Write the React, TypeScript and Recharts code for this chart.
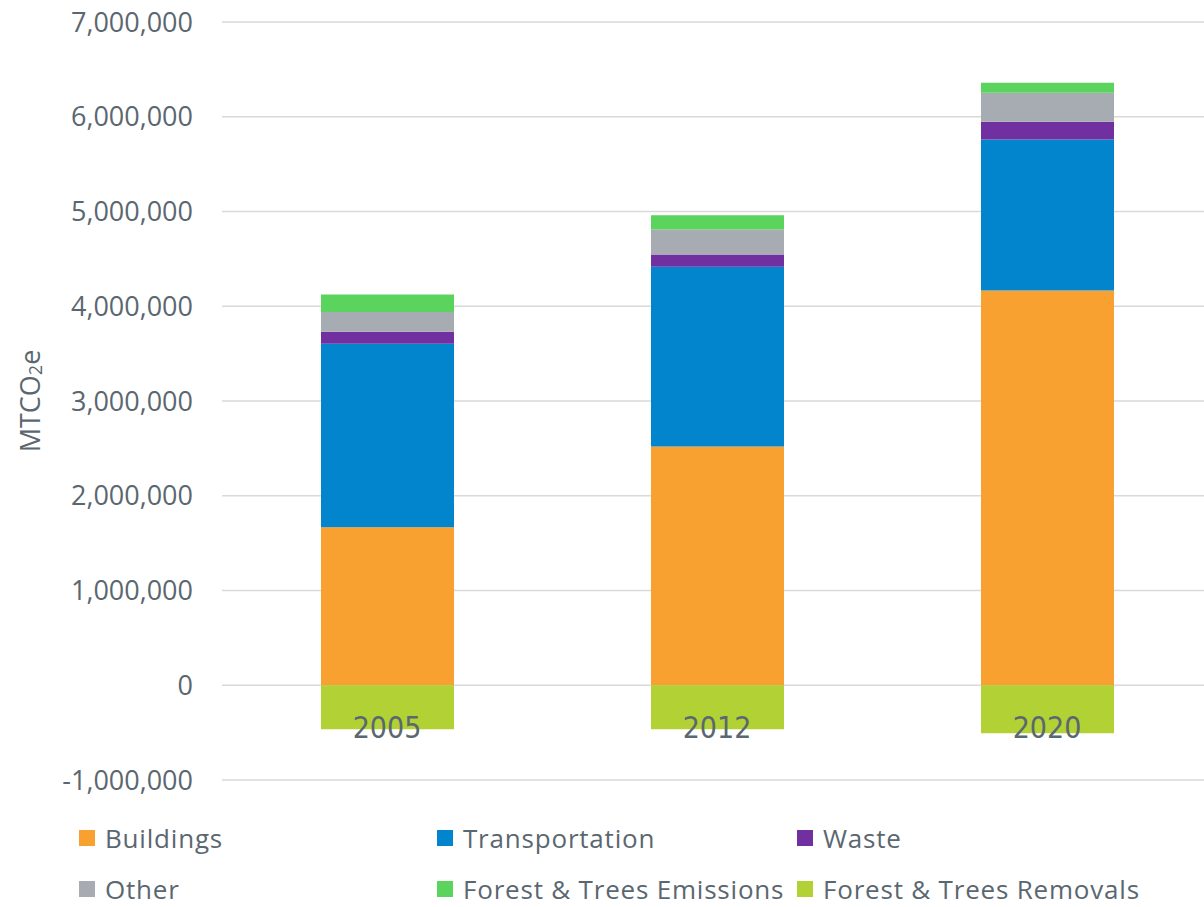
import React from "react";
import { BarChart, Bar, XAxis, YAxis, CartesianGrid } from "recharts";

const years = ["2005", "2012", "2020"];
const buildings = [1667000, 2521000, 4167000];
const transportation = [1938000, 1896000, 1592000];
const waste = [126000, 129000, 187000];
const other = [207000, 264000, 306000];
const forestEmissions = [186000, 151000, 106000];
const forestRemovals = [-464000, -464000, -506000];

const yTicks = [-1000000, 0, 1000000, 2000000, 3000000, 4000000, 5000000, 6000000, 7000000];

const seriesNames = [
  "Buildings",
  "Transportation",
  "Waste",
  "Other",
  "Forest & Trees Emissions",
  "Forest & Trees Removals",
];
const seriesValues = [buildings, transportation, waste, other, forestEmissions, forestRemovals];
const seriesColors = ["#F8A131", "#0385CD", "#7030A0", "#A6ACB1", "#5AD45C", "#B1D135"];

const data = years.map((y, i) => {
  const row: Record<string, string | number> = { year: y };
  seriesNames.forEach((n, k) => {
    row[n] = seriesValues[k][i];
  });
  return row;
});

const TEXT = "#5B6770";
const FONT = "'Open Sans', 'Noto Sans', sans-serif";

const legendOrder = [
  ["Buildings", "Transportation", "Waste"],
  ["Other", "Forest & Trees Emissions", "Forest & Trees Removals"],
];
const legendCols = [79, 437, 797];
const legendRows = [838, 889];

const YearTick = (props: any) => {
  const { x, y, payload } = props;
  return (
    <text
      x={x}
      y={y}
      dy={-50}
      textAnchor="middle"
      fill={TEXT}
      fontSize={30}
      fontFamily="'Liberation Sans Narrow', 'DejaVu Sans Condensed', sans-serif"
    >
      {payload.value}
    </text>
  );
};

const YLabel = (props: any) => {
  const vb = props.viewBox || {};
  const cx = 29;
  const cy = vb.y + vb.height / 2;
  return (
    <text
      x={cx}
      y={cy}
      transform={`rotate(-90, ${cx}, ${cy})`}
      textAnchor="middle"
      dominantBaseline="central"
      fill={TEXT}
      fontSize={27}
      fontFamily={FONT}
    >
      MTCO<tspan fontSize={18} dy={6}>2</tspan>
      <tspan dy={-6}>e</tspan>
    </text>
  );
};

export default function App() {
  return (
    <div
      style={{
        position: "absolute",
        left: 0,
        top: 0,
        width: 1204,
        height: 907,
        overflow: "hidden",
        background: "#fff",
        fontFamily: FONT,
      }}
    >
      <BarChart
        width={1212}
        height={907}
        data={data}
        stackOffset="sign"
        margin={{ top: 22, right: 0, left: 0, bottom: 97 }}
      >
        <CartesianGrid vertical={false} stroke="#D9D9D9" strokeWidth={1.5} />
        <XAxis
          dataKey="year"
          axisLine={false}
          tickLine={false}
          tick={<YearTick />}
          height={30}
        />
        <YAxis
          domain={[-1000000, 7000000]}
          ticks={yTicks}
          interval={0}
          width={222}
          axisLine={false}
          tickLine={false}
          tickMargin={23}
          tickFormatter={(v: number) => v.toLocaleString("en-US")}
          tick={{ fill: TEXT, fontSize: 27, fontFamily: FONT }}
          label={<YLabel />}
        />
        {seriesNames.map((n, k) => (
          <Bar
            key={n}
            dataKey={n}
            stackId="a"
            fill={seriesColors[k]}
            barSize={133}
            isAnimationActive={false}
          />
        ))}
      </BarChart>
      {legendOrder.map((row, r) =>
        row.map((name, c) => {
          const k = seriesNames.indexOf(name);
          return (
            <div
              key={name}
              style={{
                position: "absolute",
                left: legendCols[c],
                top: legendRows[r] - 14,
                height: 28,
                lineHeight: "28px",
                display: "flex",
                alignItems: "center",
                whiteSpace: "nowrap",
                color: TEXT,
                fontSize: 26,
                letterSpacing: 0.8,
                fontFamily: FONT,
              }}
            >
              <span
                style={{
                  display: "inline-block",
                  width: 16,
                  height: 16,
                  background: seriesColors[k],
                  marginRight: 10,
                }}
              />
              {name}
            </div>
          );
        })
      )}
    </div>
  );
}
